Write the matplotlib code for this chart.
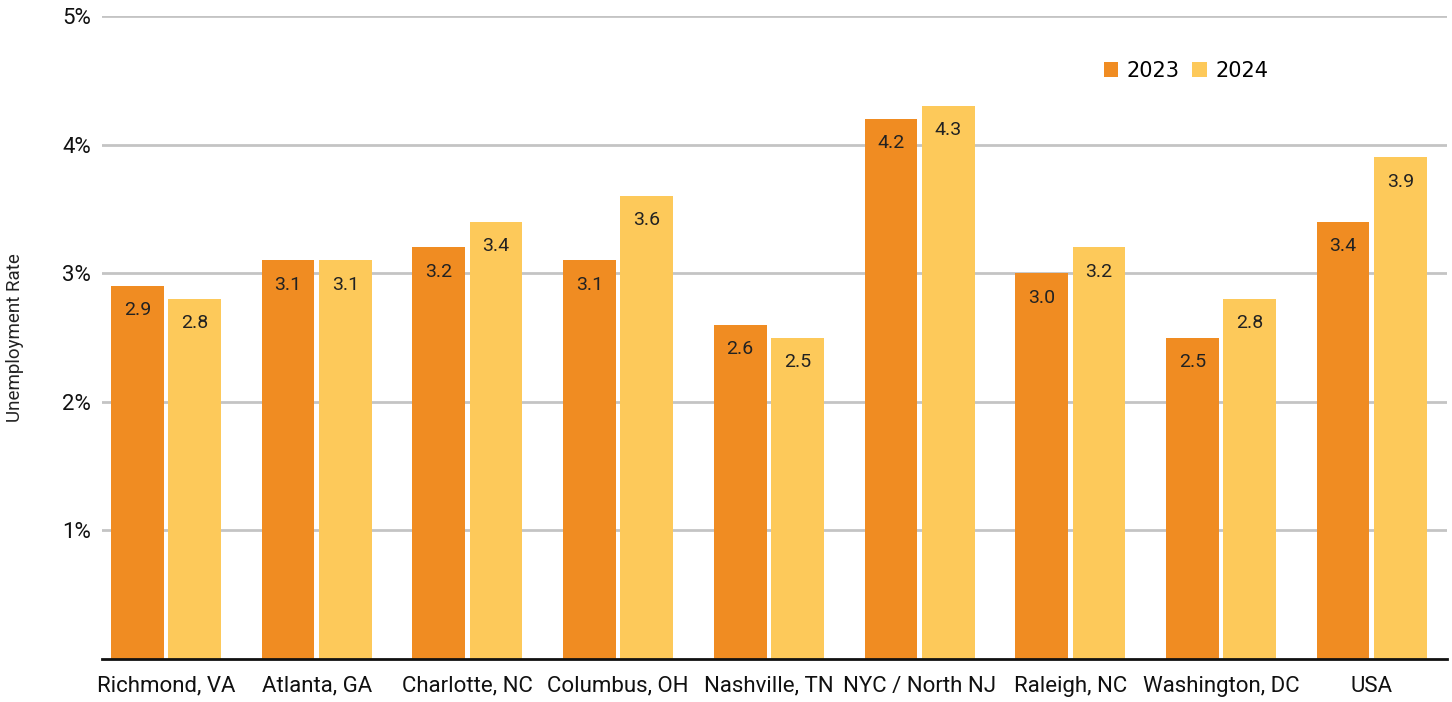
import matplotlib.pyplot as plt
import numpy as np
from matplotlib import font_manager

cities = ["Richmond, VA", "Atlanta, GA", "Charlotte, NC", "Columbus, OH", "Nashville, TN",
          "NYC / North NJ", "Raleigh, NC", "Washington, DC", "USA"]
rate_2023 = [2.9, 3.1, 3.2, 3.1, 2.6, 4.2, 3.0, 2.5, 3.4]
rate_2024 = [2.8, 3.1, 3.4, 3.6, 2.5, 4.3, 3.2, 2.8, 3.9]
yticks = [1, 2, 3, 4, 5]

names = {f.name for f in font_manager.fontManager.ttflist}
fam = "Liberation Sans Narrow" if "Liberation Sans Narrow" in names else "Roboto"
plt.rcParams['font.family'] = [fam, 'DejaVu Sans']

c23 = "#f08c22"
c24 = "#fdc95a"

fig = plt.figure(figsize=(14.52, 7.02), dpi=100)
ax = fig.add_axes([102 / 1452, 1 - 659 / 702, 1345 / 1452, (659 - 16) / 702])

x = np.arange(len(cities))
w = 0.35
off = 0.19
b1 = ax.bar(x - off, rate_2023, width=w, color=c23, label="2023", zorder=2)
b2 = ax.bar(x + off, rate_2024, width=w, color=c24, label="2024", zorder=2)

for bars in (b1, b2):
    for b in bars:
        ax.text(b.get_x() + b.get_width() / 2, b.get_height() - 0.12, "%.1f" % b.get_height(),
                ha='center', va='top', fontsize=14, color="#222222", zorder=3)

ax.set_xlim(-0.425, 8.5)
ax.set_ylim(0, 5)
ax.set_yticks(yticks)
ax.set_yticklabels(["%d%%" % t for t in yticks])
ax.set_xticks(x)
ax.set_xticklabels(cities)
ax.tick_params(axis='both', length=0, labelsize=16, colors="#111111")
ax.tick_params(axis='y', pad=8)
ax.tick_params(axis='x', pad=12)
ax.yaxis.grid(True, color="#c4c4c4", linewidth=2, zorder=0)
for s in ["top", "right", "left"]:
    ax.spines[s].set_visible(False)
ax.spines["bottom"].set_linewidth(2)
ax.spines["bottom"].set_color("#111111")
ax.spines["bottom"].set_zorder(4)

fig.text(15 / 1452, 1 - 338 / 702, "Unemployment Rate", rotation=90, ha='center', va='center',
         fontsize=13.5, color="#222222")

ax.legend(loc="upper right", bbox_to_anchor=(1185 / 1345, (659 - 42) / 643), ncol=2,
          frameon=False, handlelength=0.7, handleheight=0.7, handletextpad=0.4,
          columnspacing=0.6, prop={'family': 'DejaVu Sans', 'size': 15})

plt.savefig("out.png", dpi=100)
